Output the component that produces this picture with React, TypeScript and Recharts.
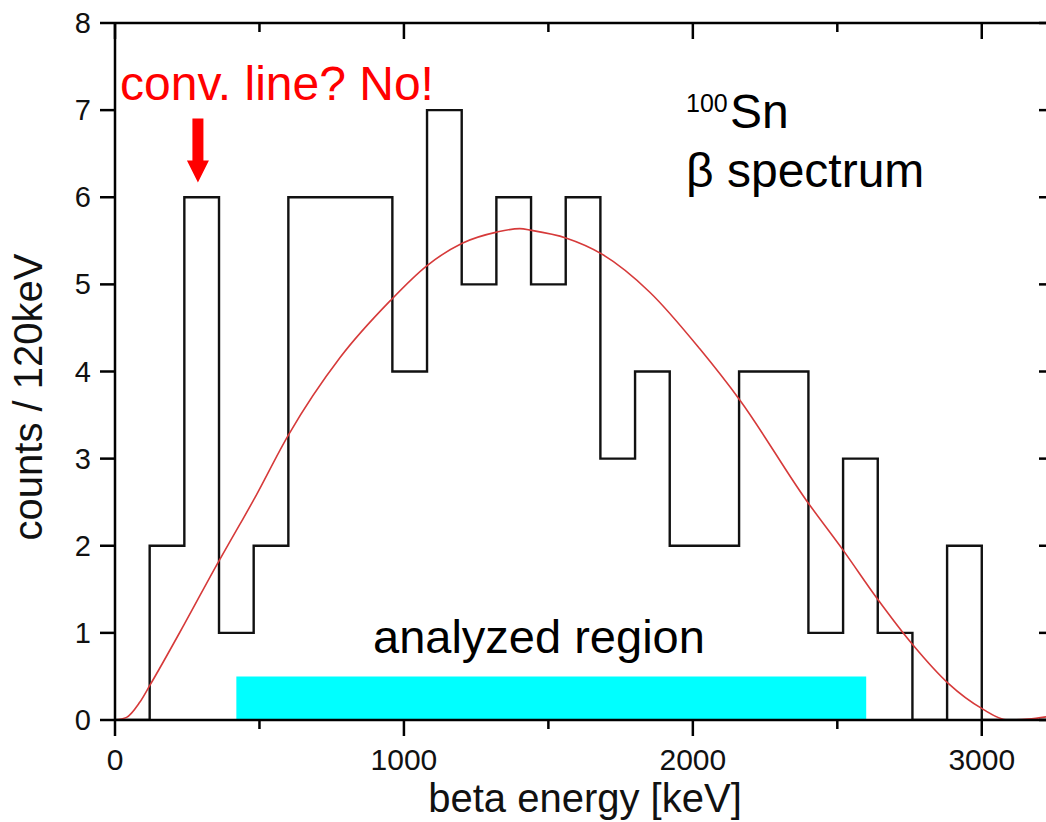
import { ComposedChart, Line, XAxis, YAxis, ReferenceArea, ReferenceDot } from 'recharts'

const FONT = '"Liberation Sans", Arial, Helvetica, sans-serif'

// lower edges of the 120 keV bins [keV]
const binStarts = [
  0, 120, 240, 360, 480, 600, 720, 840, 960, 1080, 1200, 1320, 1440, 1560,
  1680, 1800, 1920, 2040, 2160, 2280, 2400, 2520, 2640, 2760, 2880, 3000, 3120,
]
// counts per bin
const counts = [0, 2, 6, 1, 2, 6, 6, 6, 4, 7, 5, 6, 5, 6, 3, 4, 2, 2, 4, 4, 1, 3, 1, 0, 2, 0, 0]
const BIN_WIDTH = 120

// fitted beta spectrum shape
const fitEnergy = [
  0, 40, 85, 121, 240, 357, 433, 479, 600, 779, 952, 1078, 1200, 1321, 1401, 1442,
  1563, 1684, 1851, 2024, 2163, 2393, 2520, 2641, 2762, 2884, 3001, 3090, 3160, 3250,
]
const fitCounts = [
  0, 0.03, 0.2, 0.4, 1.1, 1.81, 2.25, 2.52, 3.27, 4.16, 4.81, 5.21, 5.47, 5.6, 5.64, 5.62,
  5.53, 5.35, 4.91, 4.26, 3.67, 2.52, 1.95, 1.38, 0.86, 0.42, 0.13, 0, 0.01, 0.05,
]

const xTicks = [0, 500, 1000, 1500, 2000, 2500, 3000]
const yTicks = [0, 1, 2, 3, 4, 5, 6, 7, 8]
const X_MAX = 3250
const Y_MAX = 8

// energy window used in the analysis, drawn as a bar of height 0.5
const analyzedRegion = [420, 2600]
const analyzedHeight = 0.5

// where the arrow tip points (suspected conversion line)
const convLineEnergy = 287
const convLineLevel = 6.17

const histData = binStarts
  .map((e, i) => ({ e, c: counts[i] }))
  .concat([{ e: binStarts[binStarts.length - 1] + BIN_WIDTH, c: 0 }])

const fitData = fitEnergy.map((e, i) => ({ e, y: fitCounts[i] }))

const AXIS = { stroke: '#000', strokeWidth: 2.5 }

const BottomTick = (props: any) => {
  const { x, y, payload } = props
  const major = payload.value % 1000 === 0
  return (
    <g>
      <line x1={x} y1={y} x2={x} y2={y + (major ? 16 : 9)} stroke="#000" strokeWidth={2.5} />
      {major && (
        <text x={x} y={y + 50} textAnchor="middle" fontSize={30} fontFamily={FONT} fill="#111">
          {payload.value}
        </text>
      )}
    </g>
  )
}

const TopTick = (props: any) => {
  const { x, y, payload } = props
  const major = payload.value % 1000 === 0
  return <line x1={x} y1={y} x2={x} y2={y + (major ? 16 : 9)} stroke="#000" strokeWidth={2.5} />
}

const LeftTick = (props: any) => {
  const { x, y, payload } = props
  return (
    <g>
      <line x1={x - 15} y1={y} x2={x} y2={y} stroke="#000" strokeWidth={2.5} />
      <text x={x - 24} y={y + 10} textAnchor="end" fontSize={29} fontFamily={FONT} fill="#111">
        {payload.value}
      </text>
    </g>
  )
}

const RightTick = (props: any) => {
  const { x, y } = props
  return <line x1={x - 15} y1={y} x2={x} y2={y} stroke="#000" strokeWidth={2.5} />
}

// downward red arrow, tip at (cx, cy)
const DownArrow = (props: any) => {
  const { cx, cy } = props
  const pts = [
    [cx, cy],
    [cx - 11, cy - 22],
    [cx - 5.5, cy - 22],
    [cx - 5.5, cy - 64],
    [cx + 5.5, cy - 64],
    [cx + 5.5, cy - 22],
    [cx + 11, cy - 22],
  ]
  return <polygon points={pts.map((p) => p.join(',')).join(' ')} fill="#ff0000" />
}

export default function App() {
  return (
    <div
      style={{
        position: 'absolute',
        left: 0,
        top: 0,
        width: 1046,
        height: 822,
        overflow: 'hidden',
        background: '#fff',
      }}
    >
      {/* plot box: left 115, top 23, right 1054 (cut off by the frame), bottom 720 */}
      <ComposedChart width={1080} height={822} margin={{ top: 22, left: 114, right: 25, bottom: 101 }}>
        <XAxis
          xAxisId="b"
          dataKey="e"
          type="number"
          domain={[0, X_MAX]}
          ticks={xTicks}
          height={1}
          tickSize={0}
          tickMargin={0}
          tickLine={false}
          axisLine={AXIS}
          tick={<BottomTick />}
          allowDataOverflow
        />
        <XAxis
          xAxisId="t"
          orientation="top"
          dataKey="e"
          type="number"
          domain={[0, X_MAX]}
          ticks={xTicks}
          height={1}
          tickSize={0}
          tickMargin={0}
          tickLine={false}
          axisLine={AXIS}
          tick={<TopTick />}
          allowDataOverflow
        />
        <YAxis
          yAxisId="l"
          type="number"
          domain={[0, Y_MAX]}
          ticks={yTicks}
          width={1}
          tickSize={0}
          tickMargin={0}
          tickLine={false}
          axisLine={AXIS}
          tick={<LeftTick />}
          allowDataOverflow
        />
        <YAxis
          yAxisId="r"
          orientation="right"
          type="number"
          domain={[0, Y_MAX]}
          ticks={yTicks}
          width={1}
          tickSize={0}
          tickMargin={0}
          tickLine={false}
          axisLine={AXIS}
          tick={<RightTick />}
          allowDataOverflow
        />
        <ReferenceArea
          xAxisId="b"
          yAxisId="l"
          x1={analyzedRegion[0]}
          x2={analyzedRegion[1]}
          y1={0}
          y2={analyzedHeight}
          fill="#00ffff"
          fillOpacity={1}
          stroke="none"
        />
        <Line
          xAxisId="b"
          yAxisId="l"
          data={histData}
          dataKey="c"
          type="stepAfter"
          stroke="#111"
          strokeWidth={2.4}
          dot={false}
          isAnimationActive={false}
        />
        <Line
          xAxisId="b"
          yAxisId="l"
          data={fitData}
          dataKey="y"
          type="monotone"
          stroke="#d63a3a"
          strokeWidth={1.6}
          dot={false}
          isAnimationActive={false}
        />
        <ReferenceDot
          xAxisId="b"
          yAxisId="l"
          x={convLineEnergy}
          y={convLineLevel}
          r={0}
          shape={<DownArrow />}
        />
      </ComposedChart>
      <svg
        width={1046}
        height={822}
        style={{ position: 'absolute', left: 0, top: 0, pointerEvents: 'none' }}
        fontFamily={FONT}
      >
        <text x={120} y={100} fontSize={48} fill="#ff0000">
          conv. line? No!
        </text>
        <text x={686} y={112} fontSize={25} fill="#000">
          100
        </text>
        <text x={730} y={128} fontSize={48} fill="#000">
          Sn
        </text>
        <text x={686} y={187} fontSize={48} fill="#000">
          β spectrum
        </text>
        <text x={373} y={653} fontSize={47} fill="#000">
          analyzed region
        </text>
        <text x={585} y={812} fontSize={40} textAnchor="middle" fill="#111">
          beta energy [keV]
        </text>
        <text transform="translate(42,397) rotate(-90)" fontSize={40} textAnchor="middle" fill="#111">
          counts / 120keV
        </text>
      </svg>
    </div>
  )
}
